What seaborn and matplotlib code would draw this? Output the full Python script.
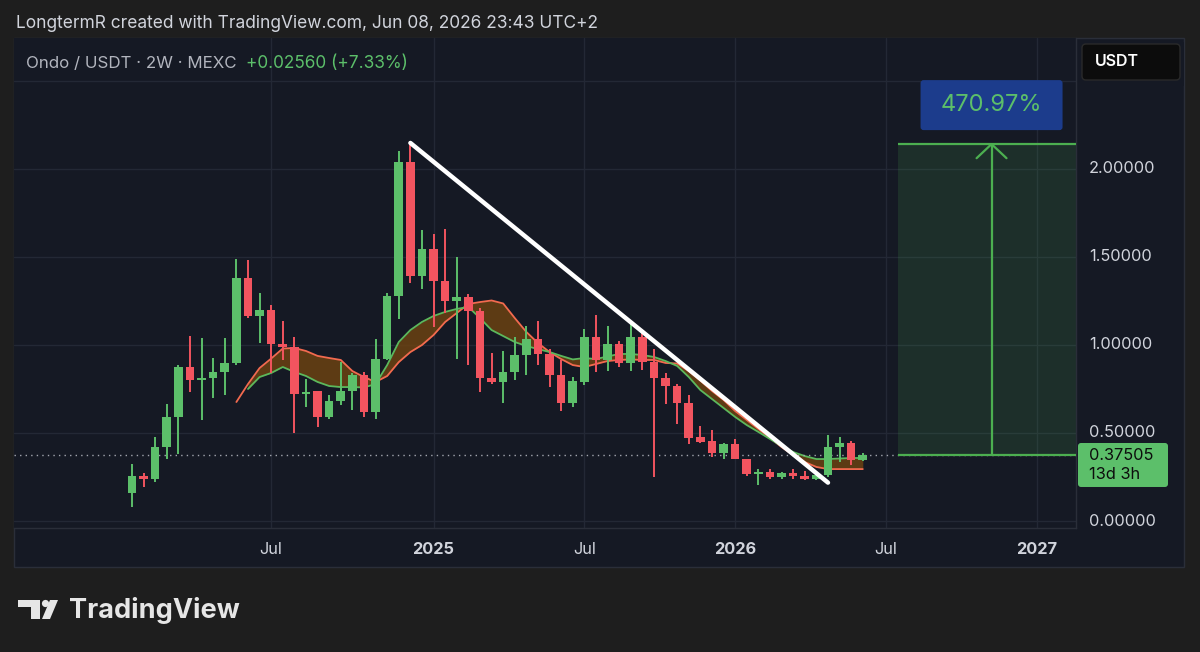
import numpy as np
import pandas as pd
import matplotlib
matplotlib.use('Agg')
import matplotlib.pyplot as plt
import seaborn as sns
from matplotlib.patches import Rectangle, FancyBboxPatch, Polygon, Circle
from matplotlib.transforms import IdentityTransform, blended_transform_factory

# 2W candles, Ondo / USDT on MEXC
opens = [0.159, 0.256, 0.237, 0.419, 0.593, 0.877, 0.801, 0.810, 0.848, 0.900,
         1.379, 1.165, 1.199, 1.007, 0.990, 0.722, 0.737, 0.589, 0.683, 0.740,
         0.831, 0.619, 0.922, 1.278, 2.042, 1.392, 1.545, 1.365, 1.252, 1.271,
         1.191, 0.810, 0.790, 0.847, 0.945, 1.036, 0.949, 0.831, 0.672, 0.790,
         1.047, 0.915, 1.006, 0.900, 1.047, 0.903, 0.810, 0.767, 0.669, 0.480,
         0.453, 0.389, 0.4375, 0.354, 0.267, 0.278, 0.252, 0.274, 0.256, 0.237,
         0.260, 0.422, 0.441, 0.349]
highs = [0.324, 0.273, 0.479, 0.665, 0.886, 1.051, 1.040, 0.926, 1.040, 1.490,
         1.483, 1.297, 1.227, 1.138, 1.047, 0.805, 0.737, 0.716, 0.905, 0.839,
         0.847, 1.036, 1.294, 2.100, 2.150, 1.653, 1.630, 1.661, 1.502, 1.290,
         1.210, 0.956, 0.968, 1.047, 1.108, 1.134, 0.979, 0.915, 0.817, 1.089,
         1.169, 1.108, 1.025, 1.131, 1.093, 0.975, 0.843, 0.778, 0.718, 0.540,
         0.517, 0.445, 0.468, 0.354, 0.297, 0.294, 0.278, 0.294, 0.282, 0.274,
         0.487, 0.476, 0.453, 0.385]
lows = [0.080, 0.193, 0.222, 0.351, 0.381, 0.735, 0.574, 0.699, 0.718, 0.885,
        1.153, 1.010, 0.840, 0.915, 0.500, 0.650, 0.536, 0.578, 0.657, 0.630,
        0.593, 0.581, 0.915, 1.146, 1.350, 1.316, 1.100, 1.184, 0.922, 0.885,
        0.735, 0.778, 0.669, 0.800, 0.828, 0.885, 0.760, 0.627, 0.650, 0.771,
        0.847, 0.854, 0.877, 0.854, 0.858, 0.252, 0.665, 0.551, 0.438, 0.441,
        0.362, 0.354, 0.350, 0.256, 0.203, 0.240, 0.240, 0.240, 0.233, 0.233,
        0.252, 0.335, 0.316, 0.339]
closes = [0.256, 0.239, 0.419, 0.593, 0.877, 0.801, 0.810, 0.848, 0.900, 1.379,
          1.165, 1.199, 1.007, 0.990, 0.722, 0.733, 0.589, 0.683, 0.740, 0.831,
          0.619, 0.922, 1.278, 2.042, 1.392, 1.545, 1.365, 1.252, 1.271, 1.191,
          0.810, 0.790, 0.847, 0.945, 1.036, 0.949, 0.831, 0.672, 0.794, 1.047,
          0.915, 1.006, 0.900, 1.047, 0.903, 0.810, 0.767, 0.669, 0.472, 0.449,
          0.389, 0.4375, 0.354, 0.267, 0.280, 0.252, 0.271, 0.256, 0.237, 0.263,
          0.422, 0.445, 0.349, 0.37505]

# moving average ribbon (red starts at bar 9, green at bar 10)
ma_red = [0.676, 0.778, 0.869, 0.923, 0.980, 0.983, 0.966, 0.938, 0.926, 0.915,
          0.852, 0.818, 0.790, 0.824, 0.903, 0.960, 1.000, 1.057, 1.131, 1.182,
          1.233, 1.244, 1.253, 1.236, 1.153, 1.074, 1.011, 0.960, 0.920, 0.886,
          0.875, 0.892, 0.909, 0.915, 0.918, 0.915, 0.915, 0.898, 0.895, 0.852,
          0.798, 0.739, 0.688, 0.625, 0.574, 0.523, 0.472, 0.420, 0.375, 0.335,
          0.307, 0.295, 0.295, 0.295, 0.295]
ma_green = [0.750, 0.818, 0.841, 0.875, 0.847, 0.824, 0.790, 0.767, 0.761, 0.761,
            0.759, 0.778, 0.886, 1.017, 1.085, 1.131, 1.165, 1.188, 1.205, 1.216,
            1.153, 1.085, 1.051, 1.017, 0.994, 0.977, 0.960, 0.938, 0.918, 0.926,
            0.920, 0.935, 0.949, 0.949, 0.943, 0.932, 0.909, 0.881, 0.818, 0.744,
            0.693, 0.642, 0.591, 0.545, 0.506, 0.466, 0.426, 0.392, 0.369, 0.352,
            0.352, 0.355, 0.358, 0.358]

time_ticks = [12, 26, 39, 52, 65, 78]
time_labels = ['Jul', '2025', 'Jul', '2026', 'Jul', '2027']
price_ticks = [0.0, 0.5, 1.0, 1.5, 2.0, 2.5]

trend_x = [24, 60]
trend_y = [2.148, 0.218]

last_price = 0.37505
change_abs = 0.02560
change_pct = 7.33
gain_pct = 470.97
box_start = 66.0
arrow_x = 74.1

# colours
OUTER = '#1e1e1e'
BG = '#151924'
GRID = '#232835'
BORDER = '#2a2e39'
TXT = '#d1d4dc'
UP = '#5cbf6a'
DOWN = '#f2545f'

W, H = 1200, 652

sns.set_theme(style='dark')
plt.rcParams['font.family'] = ['Inter', 'DejaVu Sans']

fig = plt.figure(figsize=(W / 100, H / 100), dpi=100)
fig.patch.set_facecolor(OUTER)


def px(x, y):
    return x, H - y


# chart panel incl. axes strips
fig.patches.append(Rectangle(px(14, 567), 1170, 529, transform=IdentityTransform(),
                             facecolor=BG, edgecolor=BORDER, lw=1, zorder=-5))

ax = fig.add_axes([14 / W, 1 - 528 / H, (1076 - 14) / W, (528 - 38) / H])
ax.set_zorder(1)
ax.set_facecolor(BG)
ax.set_xlim(-10.17, 81.38)
ax.set_ylim((521 - 528) / 176, (521 - 38) / 176)
for s in ax.spines.values():
    s.set_color(BORDER)
    s.set_linewidth(1)
ax.spines['top'].set_visible(False)
ax.spines['left'].set_visible(False)
ax.set_xticks(time_ticks)
ax.set_yticks(price_ticks)
ax.set_xticklabels([])
ax.set_yticklabels([])
ax.tick_params(length=0)
ax.grid(True, color=GRID, lw=1)
ax.set_axisbelow(True)

df = pd.DataFrame({'o': opens, 'h': highs, 'l': lows, 'c': closes})
df['i'] = np.arange(len(df))
df['col'] = np.where(df.c >= df.o, UP, DOWN)
body = (df.c - df.o).abs().clip(lower=0.009)

# MA ribbon
red = pd.DataFrame({'i': np.arange(9, 9 + len(ma_red)), 'v': ma_red})
green = pd.DataFrame({'i': np.arange(10, 10 + len(ma_green)), 'v': ma_green})
both = red.merge(green, on='i', suffixes=('_r', '_g'))
ax.fill_between(both.i, both.v_r, both.v_g, color='#6b4212', alpha=0.85, lw=0, zorder=2)
sns.lineplot(data=red, x='i', y='v', color='#f26a4f', lw=1.3, ax=ax, zorder=3)
sns.lineplot(data=green, x='i', y='v', color='#5cb85c', lw=1.3, ax=ax, zorder=3)

ax.vlines(df.i, df.l, df.h, colors=df.col, lw=1.4, zorder=4)
ax.bar(df.i, body, bottom=np.minimum(df.o, df.c), width=0.74, color=df.col, lw=0, zorder=5)

# current price dotted line
ax.axhline(last_price, color='#a3a6af', ls=(0, (1, 3)), lw=1.0, zorder=3)

# trend line
sns.lineplot(x=trend_x, y=trend_y, color='white', lw=3.2, ax=ax, zorder=7,
             solid_capstyle='round')

# long position measure
target = last_price * (1 + gain_pct / 100)
xr = ax.get_xlim()[1]
ax.add_patch(Rectangle((box_start, last_price), xr - box_start + 1, target - last_price,
                       facecolor='#4caf50', alpha=0.15, lw=0, zorder=1))
ax.hlines([last_price, target], box_start, xr + 1, color='#4caf50', lw=1.6, zorder=6)
ax.vlines(arrow_x, last_price, target, color='#4caf50', lw=1.6, zorder=6)
ax.plot([arrow_x - 1.29, arrow_x, arrow_x + 1.29], [target - 0.08, target, target - 0.08],
        color='#4caf50', lw=1.6, zorder=6, solid_capstyle='round')
ax.set_xlabel('')
ax.set_ylabel('')

fig.canvas.draw()
ax_px, ay_px = ax.transData.transform((arrow_x, target))
fig.patches.append(FancyBboxPatch((ax_px - 69, ay_px + 16), 138, 46,
                                  boxstyle='round,pad=2,rounding_size=3',
                                  transform=IdentityTransform(), facecolor='#1c3c8c',
                                  edgecolor='none', zorder=8))
fig.text((ax_px) / W, (ay_px + 39) / H, f'{gain_pct:.2f}%', color='#5cbf6a', fontsize=17,
         ha='center', va='center', zorder=9)

# price axis labels
tr = blended_transform_factory(fig.transFigure, ax.transData)
for p in price_ticks:
    ax.text(1089 / W, p, f'{p:.5f}', transform=tr, color=TXT, fontsize=11.8,
            ha='left', va='center', clip_on=False)

# current price tag
_, lp_px = ax.transData.transform((0, last_price))
fig.patches.append(FancyBboxPatch((1078, lp_px - 32), 90, 44,
                                  boxstyle='round,pad=0,rounding_size=3',
                                  transform=IdentityTransform(), facecolor='#5cbf6a',
                                  edgecolor='none', zorder=8))
fig.text(1089 / W, (lp_px - 1) / H, f'{last_price:.5f}', color='#0d0d0d', fontsize=11.8,
         ha='left', va='center', zorder=9)
fig.text(1089 / W, (lp_px - 20) / H, '13d 3h', color='#0d0d0d', fontsize=11.8,
         ha='left', va='center', zorder=9)

# currency button (with a strip that hides most of the top price label)
fig.patches.append(Rectangle(px(1078, 86), 106, 44, transform=IdentityTransform(),
                             facecolor=BG, edgecolor='none', zorder=7))
fig.patches.append(FancyBboxPatch(px(1082, 80), 98, 36,
                                  boxstyle='round,pad=0,rounding_size=4',
                                  transform=IdentityTransform(), facecolor='#0c0c0c',
                                  edgecolor='#2a2a2a', lw=1, zorder=8))
fig.text(1095 / W, 1 - 62 / H, 'USDT', color='white', fontsize=11.5, ha='left',
         va='center', fontweight='semibold', zorder=9)

# time axis labels
trx = blended_transform_factory(ax.transData, fig.transFigure)
for t, lab in zip(time_ticks, time_labels):
    ax.text(t, 1 - 549 / H, lab, transform=trx, color=TXT, fontsize=11.8, ha='center',
            va='center', fontweight='bold' if lab.isdigit() else 'normal', clip_on=False)

# header and legend
fig.text(16 / W, 1 - 24 / H, 'LongtermR created with TradingView.com, Jun 08, 2026 23:43 UTC+2',
         color=TXT, fontsize=12.5, ha='left', va='center')
fig.text(26 / W, 1 - 63 / H, 'Ondo / USDT · 2W · MEXC', color='#b2b5be', fontsize=12.2,
         ha='left', va='center')
fig.text(246 / W, 1 - 63 / H, f'+{change_abs:.5f} (+{change_pct:.2f}%)', color='#5cbf6a',
         fontsize=12.4, ha='left', va='center')

# TradingView logo
LOGO = '#e6e6e6'
fig.patches.append(Polygon([px(18, 600), px(40, 600), px(40, 619), px(31, 619), px(31, 607),
                            px(18, 607)], closed=True, transform=IdentityTransform(),
                           facecolor=LOGO, edgecolor='none'))
fig.patches.append(Circle(px(45.5, 603.5), 3.6, transform=IdentityTransform(),
                          facecolor=LOGO, edgecolor='none'))
fig.patches.append(Polygon([px(50, 600), px(58, 600), px(50, 619), px(42, 619)], closed=True,
                           transform=IdentityTransform(), facecolor=LOGO, edgecolor='none'))
fig.text(69 / W, 1 - 610 / H, 'TradingView', color=LOGO, fontsize=19.5, fontweight='bold',
         ha='left', va='center')

fig.savefig('out.png', dpi=100, facecolor=OUTER)
